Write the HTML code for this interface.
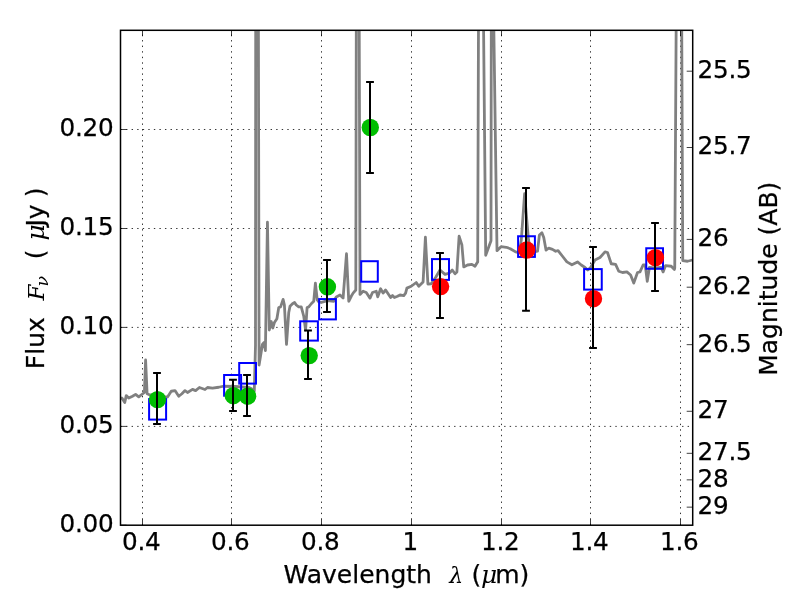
<!DOCTYPE html>
<html><head><meta charset="utf-8"><title>SED plot</title>
<style>
html,body{margin:0;padding:0;background:#fff;}
svg{display:block;}
text{font-family:"DejaVu Sans","Liberation Sans",sans-serif;fill:#000;stroke:#000;stroke-width:0.25px;}
.t{letter-spacing:-0.25px;}
.m{font-family:"DejaVu Serif","Liberation Serif",serif;font-style:italic;stroke:none;}
</style></head><body>
<svg width="800" height="600" viewBox="0 0 800 600">
<rect x="0" y="0" width="800" height="600" fill="#fff"/>
<defs><clipPath id="ax"><rect x="120.5" y="30.3" width="572.2" height="494.9"/></clipPath></defs>
<path d="M142.5 525.2V30.3M231.5 525.2V30.3M321.5 525.2V30.3M411.5 525.2V30.3M501.5 525.2V30.3M590.5 525.2V30.3M680.5 525.2V30.3M120.5 426.4H692.7M120.5 327.4H692.7M120.5 228.5H692.7M120.5 129.5H692.7" stroke="#000" stroke-width="0.8" stroke-dasharray="1.4 4.16" fill="none"/>
<g clip-path="url(#ax)">
<polyline fill="none" stroke="#808080" stroke-width="2.8" stroke-linejoin="round" stroke-linecap="butt" points="120.8,399.5 121.9,398.1 124.75,402.5 126.25,395.6 128.75,398.1 132.5,396.25 135.6,394.4 138.75,396.9 142.75,393.75 144.4,392.5 145.6,360 147.1,393.75 150,395 155,395.5 160,396 165,397 167.5,396.9 171.25,391.25 175,390.6 178.75,396.25 181.9,393.75 185,390.6 187.5,392.5 192.5,389.4 195.6,390.6 199.4,387.5 205,389.5 207.5,387.5 212.5,388.1 218.75,387.25 223.1,386.25 235,386.5 249,387.5 252,389 254.3,391 255.5,345 255.7,20 258.4,20 259.1,365 262.4,344.5 264.1,342.5 265.4,350.5 267.45,222.2 269.3,330 271.25,321.5 272.75,328 274.4,322.5 276.9,318.75 278.75,307.5 280.6,306.9 283.1,299.4 284.4,305 286.5,344.4 288.75,312.5 290,306.25 292.5,303.75 294.6,302.5 296.25,305 298.75,306.9 301.25,306.9 303.75,316.25 305.6,330 307.1,307.5 308.75,306.9 311.25,303.75 313.75,301.25 315.4,283.1 317.25,300 318.75,301.9 321.25,302.5 327.5,300.6 333.75,301.25 336.25,296.9 340,295 343.1,298.1 346.5,253.75 348.75,301.25 351.25,296.25 353.1,293.1 355.8,290 356.3,20 359.2,20 360,294.4 363.1,291.25 366.25,292.5 370,298.1 372.5,292.5 376.25,291.25 377.75,296.9 380.6,288.75 383.1,293.1 385.6,290 388.1,293.75 390.6,297.5 392.5,295.6 394.4,297.5 397.5,296.25 400,295 403.75,295.6 405.6,293.1 406.9,288.1 411.25,286.25 416.25,282.5 418.75,286.25 423.1,281.9 425.4,237.2 427.9,284 431.25,283.75 435.6,277.5 440,270 445,274.4 449.4,273.1 452.25,270 455,273.75 456.9,271.9 459.1,236.25 461.9,245 463.75,266.9 467.5,265 471.9,264.4 475,266.25 477.25,262.5 477.7,262 478.5,20 483.5,20 485.7,255.3 491,240.7 491.3,20 493.7,20 497,250.7 501,246.7 506.3,247.3 510.3,248.7 515.6,251.9 518,252.5 519.5,251 521.3,240 524.6,193.75 528.5,240 531,251 534,252 537.5,251.25 539.4,235 541.9,232.75 543.75,237.5 546,250 548.75,248.1 552.5,249.4 555.6,251.25 558.1,250.6 562.5,256.25 566.9,261.9 571.9,264.75 577.5,261.9 581.25,265 585,267.5 587.75,270 590.6,267.5 595,260 600,257.5 605,251.9 607.5,252.5 611.25,263.75 615.6,264.4 618.75,271.25 622.5,272.5 626.9,271.9 630.6,275 633.75,283.1 637.5,272.5 640,271.9 643.1,265 645.25,265 647.25,281.25 649.4,267.5 655,268 661.25,267.5 663.1,271.9 665.6,265.6 671.25,266.25 674.4,269.4 674.75,268 676.2,20 681.7,20 682.75,260.6 687.5,261.25 692.5,260"/>
<rect x="149.1" y="399.1" width="17" height="20.5" fill="none" stroke="#0000ff" stroke-width="2"/>
<rect x="224.1" y="375" width="17" height="20.7" fill="none" stroke="#0000ff" stroke-width="2"/>
<rect x="239.2" y="363" width="16.8" height="20.6" fill="none" stroke="#0000ff" stroke-width="2"/>
<rect x="300.2" y="321.3" width="17.7" height="19.3" fill="none" stroke="#0000ff" stroke-width="2"/>
<rect x="319.1" y="299.1" width="16.8" height="20.3" fill="none" stroke="#0000ff" stroke-width="2"/>
<rect x="361.2" y="261.2" width="16.6" height="20.5" fill="none" stroke="#0000ff" stroke-width="2"/>
<rect x="432" y="259.1" width="17" height="20.8" fill="none" stroke="#0000ff" stroke-width="2"/>
<rect x="518.1" y="236.25" width="16.8" height="20.65" fill="none" stroke="#0000ff" stroke-width="2"/>
<rect x="584.1" y="269.1" width="17.65" height="20.5" fill="none" stroke="#0000ff" stroke-width="2"/>
<rect x="646.25" y="248.25" width="16.75" height="20.5" fill="none" stroke="#0000ff" stroke-width="2"/>
<circle cx="157.5" cy="399.6" r="8.7" fill="#00be00"/>
<circle cx="233.3" cy="395.7" r="8.7" fill="#00be00"/>
<circle cx="247.6" cy="396.2" r="8.7" fill="#00be00"/>
<circle cx="309.2" cy="355.6" r="8.7" fill="#00be00"/>
<circle cx="327.4" cy="286.8" r="8.7" fill="#00be00"/>
<circle cx="370.3" cy="127.5" r="8.7" fill="#00be00"/>
<circle cx="440.6" cy="286.6" r="8.7" fill="#ff0000"/>
<circle cx="526.7" cy="250" r="8.7" fill="#ff0000"/>
<circle cx="593.5" cy="298.7" r="8.7" fill="#ff0000"/>
<circle cx="655.4" cy="257.7" r="8.7" fill="#ff0000"/>
<path d="M157 373V424M153.1 373h7.8M153.1 424h7.8" stroke="#000" stroke-width="2" fill="none"/>
<path d="M233 379.7V411M229.1 379.7h7.8M229.1 411h7.8" stroke="#000" stroke-width="2" fill="none"/>
<path d="M247 375V416M243.1 375h7.8M243.1 416h7.8" stroke="#000" stroke-width="2" fill="none"/>
<path d="M308 330.6V379M304.1 330.6h7.8M304.1 379h7.8" stroke="#000" stroke-width="2" fill="none"/>
<path d="M327 260V312M323.1 260h7.8M323.1 312h7.8" stroke="#000" stroke-width="2" fill="none"/>
<path d="M370 82V173M366.1 82h7.8M366.1 173h7.8" stroke="#000" stroke-width="2" fill="none"/>
<path d="M440 253.1V318M436.1 253.1h7.8M436.1 318h7.8" stroke="#000" stroke-width="2" fill="none"/>
<path d="M526 188.1V310.8M522.1 188.1h7.8M522.1 310.8h7.8" stroke="#000" stroke-width="2" fill="none"/>
<path d="M593 247.1V348M589.1 247.1h7.8M589.1 348h7.8" stroke="#000" stroke-width="2" fill="none"/>
<path d="M655 222.9V291M651.1 222.9h7.8M651.1 291h7.8" stroke="#000" stroke-width="2" fill="none"/>
</g>
<path d="M142.5 525.2v-6M142.5 30.3v6M231.5 525.2v-6M231.5 30.3v6M321.5 525.2v-6M321.5 30.3v6M411.5 525.2v-6M411.5 30.3v6M501.5 525.2v-6M501.5 30.3v6M590.5 525.2v-6M590.5 30.3v6M680.5 525.2v-6M680.5 30.3v6M120.5 525.2h6M120.5 426.4h6M120.5 327.4h6M120.5 228.5h6M120.5 129.5h6M692.7 71.2h-6M692.7 147.5h-6M692.7 239.4h-6M692.7 287.2h-6M692.7 344.658h-6M692.7 411.286h-6M692.7 453.325h-6M692.7 479.85h-6M692.7 507.146h-6" stroke="#000" stroke-width="0.75" fill="none"/>
<rect x="120.5" y="30.3" width="572.2" height="494.9" fill="none" stroke="#000" stroke-width="1.5"/>
<text class="t" x="141.3" y="549.8" font-size="24.7" text-anchor="middle">0.4</text>
<text class="t" x="230.3" y="549.8" font-size="24.7" text-anchor="middle">0.6</text>
<text class="t" x="320.3" y="549.8" font-size="24.7" text-anchor="middle">0.8</text>
<text class="t" x="410.3" y="549.8" font-size="24.7" text-anchor="middle">1</text>
<text class="t" x="500.3" y="549.8" font-size="24.7" text-anchor="middle">1.2</text>
<text class="t" x="589.3" y="549.8" font-size="24.7" text-anchor="middle">1.4</text>
<text class="t" x="679.3" y="549.8" font-size="24.7" text-anchor="middle">1.6</text>
<text class="t" x="113.4" y="532" font-size="24.7" text-anchor="end">0.00</text>
<text class="t" x="113.4" y="433.2" font-size="24.7" text-anchor="end">0.05</text>
<text class="t" x="113.4" y="334.2" font-size="24.7" text-anchor="end">0.10</text>
<text class="t" x="113.4" y="235.3" font-size="24.7" text-anchor="end">0.15</text>
<text class="t" x="113.4" y="136.3" font-size="24.7" text-anchor="end">0.20</text>
<text class="t" x="697.5" y="78.1" font-size="24.7">25.5</text>
<text class="t" x="697.5" y="154.4" font-size="24.7">25.7</text>
<text class="t" x="697.5" y="246.3" font-size="24.7">26</text>
<text class="t" x="697.5" y="294.1" font-size="24.7">26.2</text>
<text class="t" x="697.5" y="351.558" font-size="24.7">26.5</text>
<text class="t" x="697.5" y="418.186" font-size="24.7">27</text>
<text class="t" x="697.5" y="460.225" font-size="24.7">27.5</text>
<text class="t" x="697.5" y="486.75" font-size="24.7">28</text>
<text class="t" x="697.5" y="514.046" font-size="24.7">29</text>
<text y="582.7" font-size="25"><tspan x="283.6">Wavelength</tspan><tspan x="449.3" class="m" font-size="22">λ</tspan><tspan x="471.5">(</tspan><tspan x="481" class="m">μ</tspan><tspan x="495.2">m)</tspan></text>
<text transform="translate(44.2,369.2) rotate(-90)" font-size="25">Flux</text>
<text transform="translate(44.2,300.6) rotate(-90)" font-size="23" class="m">F</text>
<text transform="translate(48.2,286.5) rotate(-90)" font-size="17.5" class="m">ν</text>
<text transform="translate(44.2,259.3) rotate(-90)" font-size="25">(</text>
<text transform="translate(44.2,240.5) rotate(-90)" font-size="25" class="m">μ</text>
<text transform="translate(44.2,226.6) rotate(-90)" font-size="25">Jy</text>
<text transform="translate(44.2,197.2) rotate(-90)" font-size="25">)</text>
<text transform="translate(777.3,375.8) rotate(-90)" font-size="25">Magnitude (AB)</text>
</svg>
</body></html>
